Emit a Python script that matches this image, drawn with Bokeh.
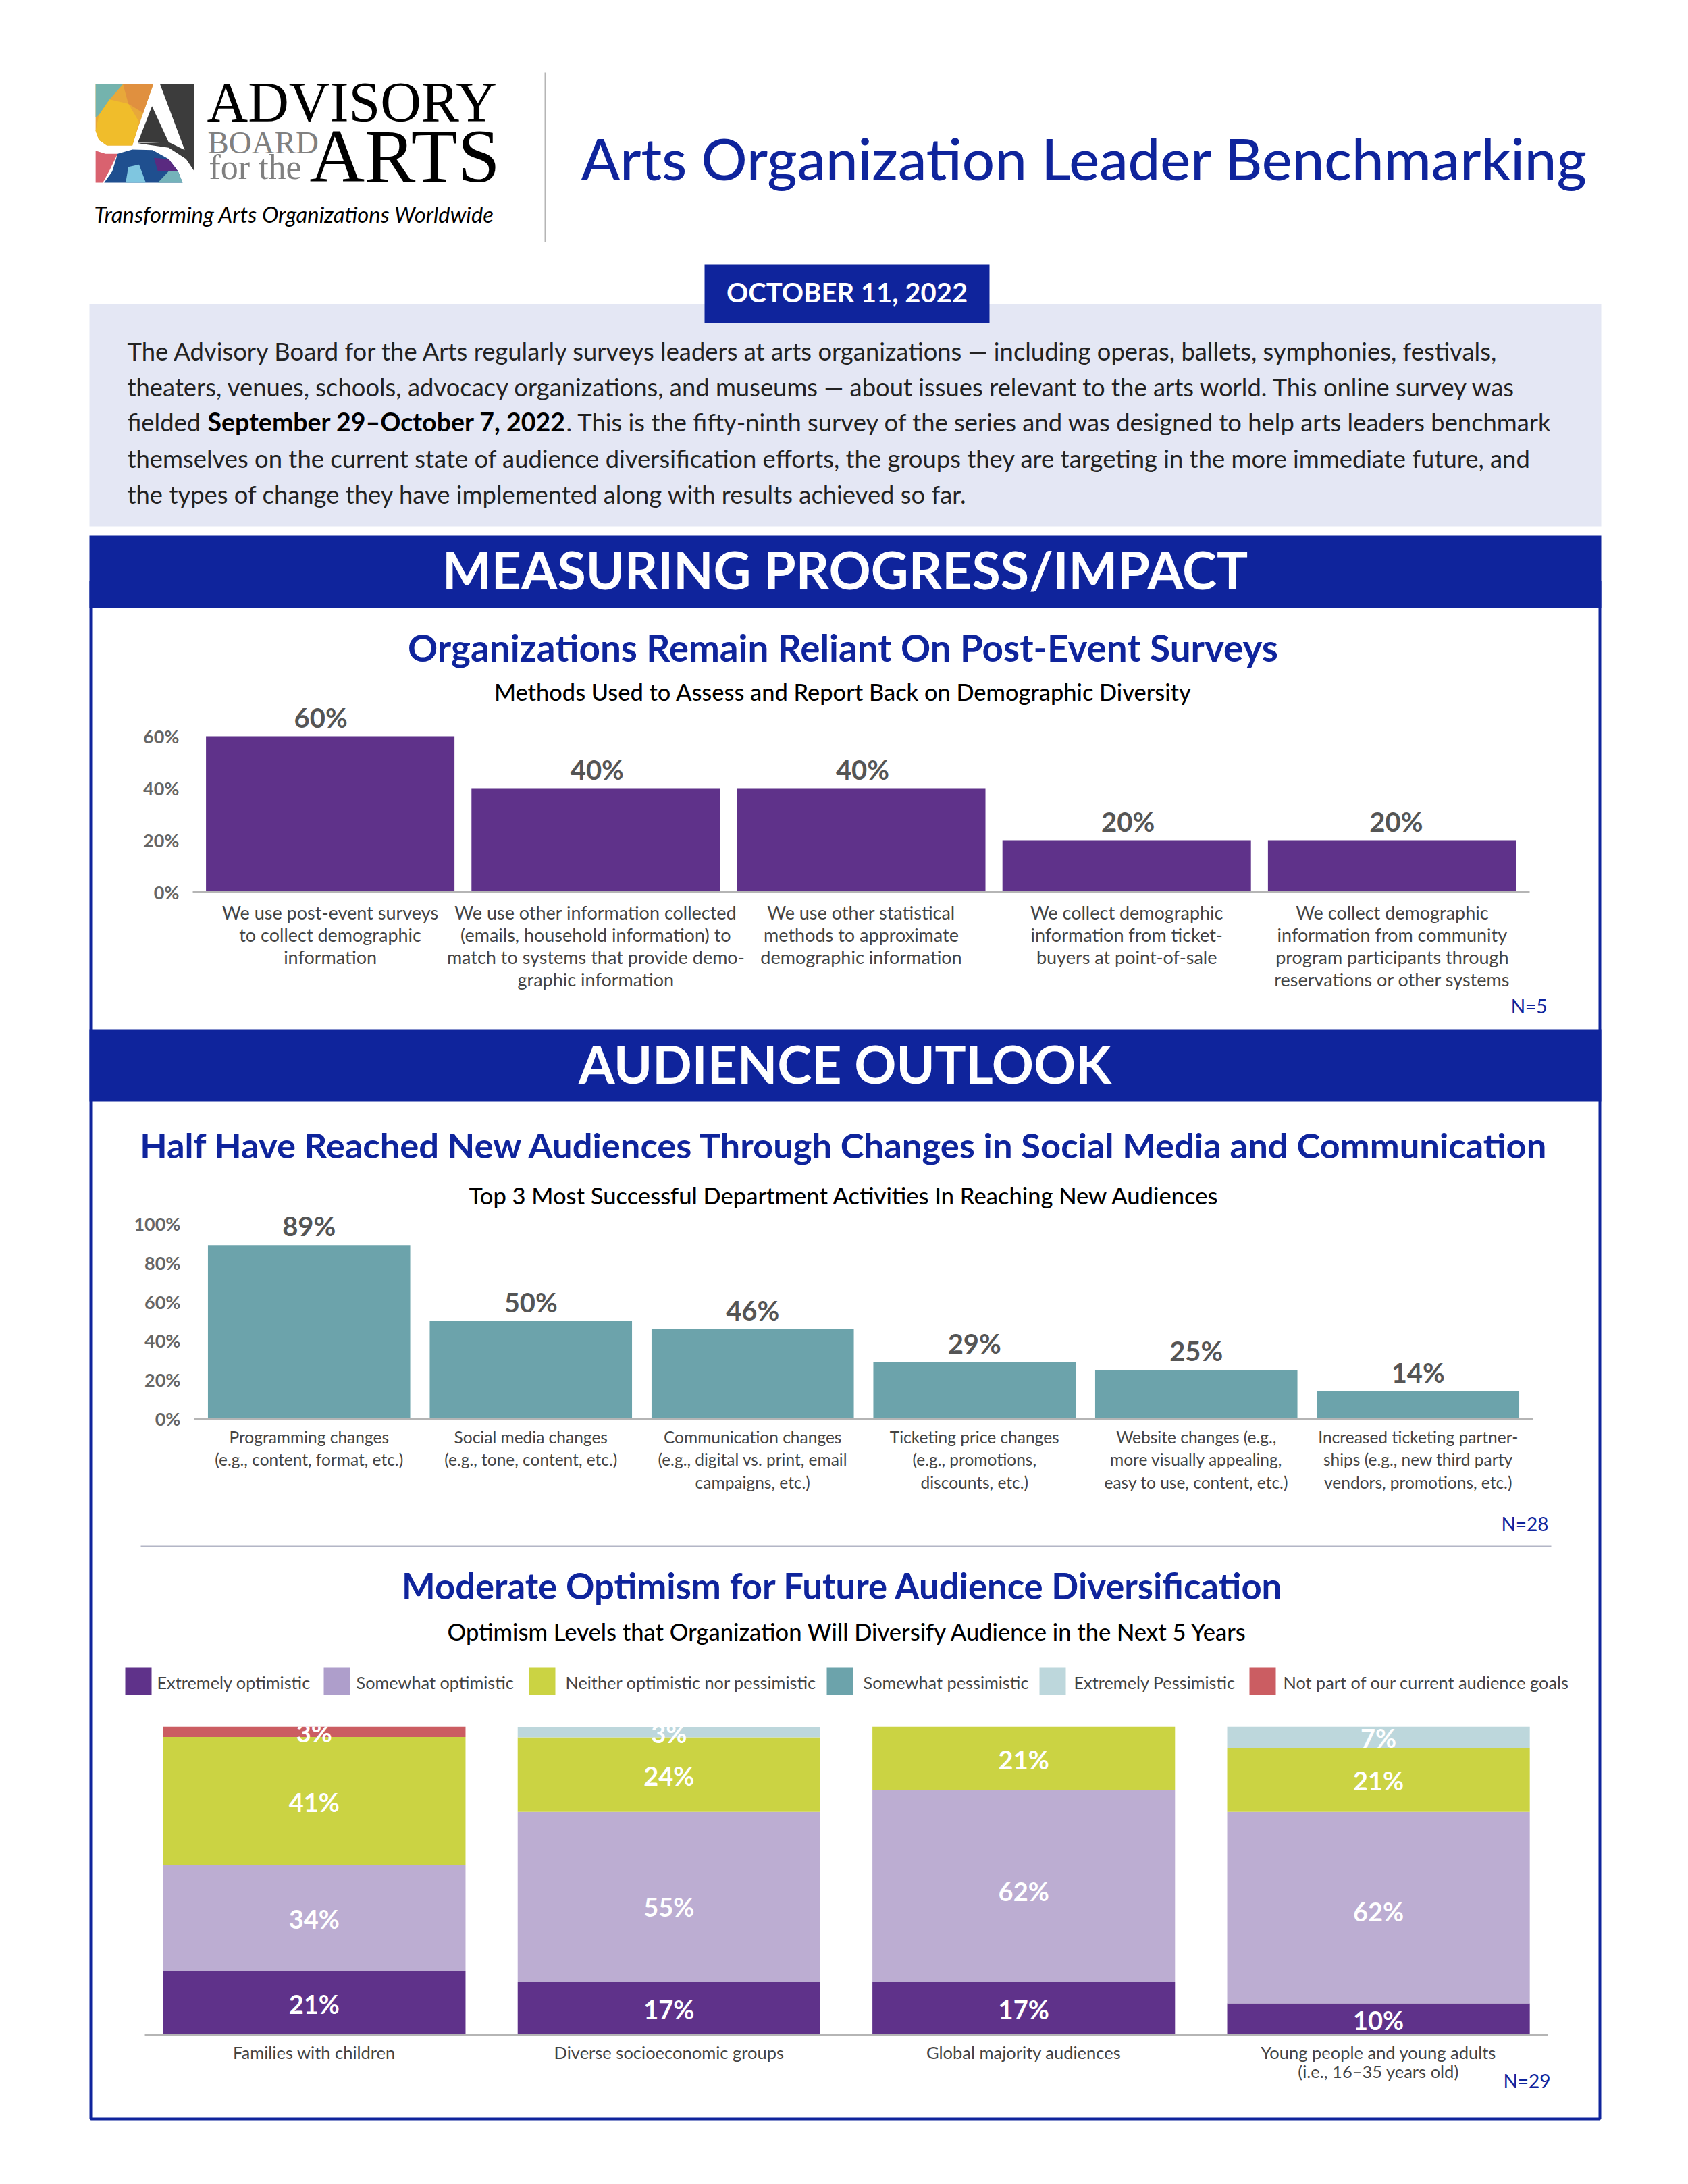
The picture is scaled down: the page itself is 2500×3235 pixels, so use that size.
from bokeh.plotting import figure
from bokeh.layouts import column
from bokeh.models import Range1d, FactorRange, FixedTicker, PrintfTickFormatter, ColumnDataSource
from bokeh.core.properties import value
from bokeh.embed import file_html
from bokeh.resources import INLINE

# ---------- data ----------
CATS_1 = ["We use post-event surveys\nto collect demographic\ninformation",
          "We use other information collected\n(emails, household information) to\nmatch to systems that provide demo-\ngraphic information",
          "We use other statistical\nmethods to approximate\ndemographic information",
          "We collect demographic\ninformation from ticket-\nbuyers at point-of-sale",
          "We collect demographic\ninformation from community\nprogram participants through\nreservations or other systems"]
VALS_1 = [60, 40, 40, 20, 20]
TICKS_1 = [0, 20, 40, 60]

CATS_2 = ["Programming changes\n(e.g., content, format, etc.)",
          "Social media changes\n(e.g., tone, content, etc.)",
          "Communication changes\n(e.g., digital vs. print, email\ncampaigns, etc.)",
          "Ticketing price changes\n(e.g., promotions,\ndiscounts, etc.)",
          "Website changes (e.g.,\nmore visually appealing,\neasy to use, content, etc.)",
          "Increased ticketing partner-\nships (e.g., new third party\nvendors, promotions, etc.)"]
VALS_2 = [89, 50, 46, 29, 25, 14]
TICKS_2 = [0, 20, 40, 60, 80, 100]

CATS_3 = ["Families with children", "Diverse socioeconomic groups",
          "Global majority audiences", "Young people and young adults\n(i.e., 16–35 years old)"]
EXT_OPT = [20.7, 17.2, 17.2, 10.3]
SOM_OPT = [34.5, 55.2, 62.1, 62.1]
NEITHER = [41.4, 24.1, 20.7, 20.7]
SOM_PES = [0, 0, 0, 0]
EXT_PES = [0, 3.4, 0, 6.9]
NOT_PART = [3.4, 0, 0, 0]
LEGEND = ["Extremely optimistic", "Somewhat optimistic", "Neither optimistic nor pessimistic",
          "Somewhat pessimistic", "Extremely Pessimistic", "Not part of our current audience goals"]

# ---------- style ----------
NAVY = "#0f249c"; PURPLE = "#5f328a"; LILAC = "#bcadd2"; LIME = "#cbd343"
TEAL = "#6ca3ab"; PALE = "#bdd7dc"; RED = "#cb5d62"
STACK_COLORS = [PURPLE, LILAC, LIME, TEAL, PALE, RED]
SWATCH_COLORS = [PURPLE, "#ae9ecb", LIME, TEAL, PALE, RED]
SANS = "Lato"; MEDIUM = "Lato Medium"; SERIF = "Liberation Serif"

PAGE_W, PAGE_H = 2484, 3219
page = figure(width=PAGE_W, height=PAGE_H, x_range=Range1d(0, PAGE_W), y_range=Range1d(PAGE_H, 0),
              toolbar_location=None, output_backend="svg", min_border=0, frame_align=False)
page.axis.visible = False
page.grid.visible = False
page.outline_line_color = None
page.background_fill_color = "white"

def T(x, y, s, size, color="#000000", style="normal", align="left", font=SANS, target=page):
    target.text([x], [y - 4], text=[s], text_font=value(font), text_font_size=f"{size}px", text_font_style=style,
                text_color=color, text_align=align, text_baseline="middle")

def box(l, t, r, b, color):
    page.quad(left=[l], right=[r], top=[t], bottom=[b], fill_color=color, line_color=None)

# logo mark: polygons given in a small local grid
def lx(v): return 130 + v / 2.516
def ly(v): return 110 + v / 3
def poly(pts, color):
    page.patch([lx(a) for a, _ in pts], [ly(b) for _, b in pts], fill_color=color, line_color=None)

poly([(28,43),(243,43),(185,240),(165,315),(70,315),(40,290),(28,250)], "#e8a83a")
poly([(28,43),(130,43),(80,110),(40,180),(28,190)], "#74b3ad")
poly([(130,43),(243,43),(205,170),(150,130)], "#e0903f")
poly([(40,180),(80,110),(150,130),(190,210),(165,315),(70,315),(40,290),(28,250)], "#f0bd2b")
poly([(238,140),(185,303),(300,300)], "#3a3a3a")
poly([(268,43),(396,43),(396,430),(365,375),(300,325),(185,305),(300,300),(360,335)], "#3c3c3c")
poly([(28,338),(65,352),(110,352),(80,425),(55,480),(28,480)], "#d9626f")
poly([(110,352),(165,333),(240,335),(300,375),(335,430),(352,480),(60,480),(90,430)], "#1f4f8f")
poly([(140,480),(150,410),(190,400),(215,480)], "#7fc6e0")
poly([(245,370),(300,375),(335,430),(260,430)], "#5a2a80")
poly([(260,480),(300,430),(335,430),(352,480)], "#74b3ba")
T(306, 155, "ADVISORY", 84, font=SERIF)
T(307, 214, "BOARD", 47, color="#808080", font=SERIF)
T(309, 251, "for the", 52, color="#808080", font=SERIF)
T(458, 234, "ARTS", 113, font=SERIF)
T(139, 321, "Transforming Arts Organizations Worldwide", 32.8, style="italic")
page.segment([807], [107], [807], [358], line_color="#b5b5b5", line_width=2)
T(860, 237, "Arts Organization Leader Benchmarking", 85, color=NAVY, font=MEDIUM)

# intro
BODY = 36.4; INK = "#222222"
box(132, 450, 2371, 779, "#e4e7f4")
box(1043, 391, 1465, 478, NAVY)
T(1254, 436, "OCTOBER 11, 2022", 40, color="white", style="bold", align="center")
T(188, 523, "The Advisory Board for the Arts regularly surveys leaders at arts organizations — including  operas, ballets, symphonies, festivals,", BODY, color=INK)
T(188, 576, "theaters, venues, schools, advocacy organizations, and museums — about issues relevant to the arts world. This online survey was", BODY, color=INK)
T(188, 628, "fielded", BODY, color=INK)
T(307, 628, "September 29–October 7, 2022", 37.5, style="bold")
T(838, 628, ". This is the fifty-ninth survey of the series and was designed to help arts leaders benchmark", BODY, color=INK)
T(188, 682, "themselves on  the current state of audience diversification efforts, the groups they are targeting in the more immediate future, and", BODY, color=INK)
T(188, 735, "the types of change they have implemented along with results achieved so far.", BODY, color=INK)

# frame and banners
page.quad(left=[134], right=[2369], top=[860], bottom=[3138], fill_color=None, line_color=NAVY, line_width=4)
box(132, 793, 2371, 900, NAVY)
box(132, 1524, 2371, 1631, NAVY)
T(1251, 846, "MEASURING PROGRESS/IMPACT", 77, color="white", style="bold", align="center")
T(1251, 1578, "AUDIENCE OUTLOOK", 77, color="white", style="bold", align="center")

T(1248, 962, "Organizations Remain Reliant On Post-Event Surveys", 54.8, color=NAVY, style="bold", align="center")
T(1248, 1028, "Methods Used to Assess and Report Back on Demographic Diversity", 34.4, font=MEDIUM, align="center")
T(1251, 1699, "Half Have Reached New Audiences Through Changes in Social Media and Communication", 52.5, color=NAVY, style="bold", align="center")
T(1250, 1774, "Top 3 Most Successful Department Activities In Reaching New Audiences", 34.5, font=MEDIUM, align="center")
page.segment([208], [2290], [2297], [2290], line_color="#b3b6c6", line_width=2)
T(1254, 2352, "Moderate Optimism for Future  Audience Diversification", 52.6, color=NAVY, style="bold", align="center")
T(1255, 2420, "Optimism Levels that Organization Will Diversify Audience in the Next 5 Years", 34.5, font=MEDIUM, align="center")

T(2291, 1493, "N=5", 28, color=NAVY, align="right")
T(2293, 2260, "N=28", 28, color=NAVY, align="right")
T(2296, 3085, "N=29", 28, color=NAVY, align="right")

# legend
SWATCH_X = [185, 479, 783, 1224, 1539, 1850]
LABEL_X = [232, 527, 837, 1278, 1590, 1900]
for name, col, sx, lxx in zip(LEGEND, SWATCH_COLORS, SWATCH_X, LABEL_X):
    box(sx, 2469, sx + 39, 2510, col)
    T(lxx, 2495, name, 25.3, color="#444444")


def chart(cats, left, right, top, baseline, y_end, bottom_pad, lab_size, lab_lh, slot_pad, standoff):
    fig_l, fig_r, fig_t = 160, 2340, top
    h = baseline - top + bottom_pad
    slot = (right - left - 2 * slot_pad) / len(cats)
    xr = FactorRange(factors=cats, factor_padding=0, group_padding=0, subgroup_padding=0,
                     range_padding=2 * slot_pad / (slot * len(cats)), range_padding_units="percent")
    p = figure(width=fig_r - fig_l, height=h, x_range=xr, y_range=Range1d(0, y_end),
               toolbar_location=None, output_backend="svg", frame_align=False,
               min_border_left=left - fig_l, min_border_right=fig_r - right,
               min_border_top=0, min_border_bottom=bottom_pad,
               styles={"position": "absolute", "left": f"{fig_l}px", "top": f"{fig_t}px"})
    p.background_fill_alpha = 0
    p.border_fill_alpha = 0
    p.outline_line_color = None
    p.grid.visible = False
    ax = p.xaxis[0]
    ax.axis_line_color = "#b5b5b5"
    ax.axis_line_width = 3
    ax.major_tick_line_color = None
    ax.minor_tick_line_color = None
    ax.major_label_text_font = SANS
    ax.major_label_text_font_size = f"{lab_size}px"
    ax.major_label_text_color = "#444444"
    ax.major_label_text_line_height = lab_lh
    ax.major_label_standoff = standoff
    ay = p.yaxis[0]
    ay.axis_line_color = None
    ay.major_tick_line_color = None
    ay.minor_tick_line_color = None
    ay.formatter = PrintfTickFormatter(format="%d%%")
    ay.major_label_text_font = SANS
    ay.major_label_text_font_style = "bold"
    ay.major_label_text_font_size = "27px"
    ay.major_label_text_color = "#666666"
    ay.major_label_standoff = 14
    return p


# chart 1
p1 = chart(CATS_1, 285, 2265, 1030, 1321, (1321 - 1030) / 3.85, 170, 27, 1.0, 7, 7)
p1.yaxis[0].ticker = FixedTicker(ticks=TICKS_1)
src1 = ColumnDataSource(dict(x=CATS_1, y=VALS_1, t=[f"{v}%" for v in VALS_1], dx=[-14, 2, 2, 2, 6]))
p1.vbar(x="x", top="y", width=0.936, source=src1, fill_color=PURPLE, line_color=None)
p1.text(x="x", y="y", text="t", x_offset="dx", y_offset=-28, source=src1, text_font=value(SANS), text_font_style="bold",
        text_font_size="40px", text_color="#555555", text_align="center", text_baseline="middle")

# chart 2
p2 = chart(CATS_2, 287, 2270, 1790, 2101, (2101 - 1790) / 2.89, 130, 24.5, 1.17, 6, 6)
p2.yaxis[0].ticker = FixedTicker(ticks=TICKS_2)
src2 = ColumnDataSource(dict(x=CATS_2, y=VALS_2, t=[f"{v}%" for v in VALS_2]))
p2.vbar(x="x", top="y", width=0.912, source=src2, fill_color=TEAL, line_color=None)
p2.text(x="x", y="y", text="t", y_offset=-28, source=src2, text_font=value(SANS), text_font_style="bold",
        text_font_size="40px", text_color="#555555", text_align="center", text_baseline="middle")

# chart 3
p3 = chart(CATS_3, 214, 2292, 2557, 3014, 100, 90, 25.5, 0.945, -11.8, 4)
p3.yaxis[0].visible = False
series = [EXT_OPT, SOM_OPT, NEITHER, SOM_PES, EXT_PES, NOT_PART]
names = ["s%d" % i for i in range(6)]
src3 = ColumnDataSource(dict(x=CATS_3, **{n: s for n, s in zip(names, series)}))
p3.vbar_stack(names, x="x", width=0.853, source=src3, color=STACK_COLORS, line_color=None)
NUDGE = {(1, 1): 14, (2, 1): 7, (3, 1): 5}
lx3, ly3, lt3, lo3 = [], [], [], []
for ci, cat in enumerate(CATS_3):
    base = 0
    for si, s in enumerate(series):
        v = s[ci]
        if v > 0:
            lx3.append(cat); ly3.append(base + v / 2); lt3.append(f"{round(v)}%")
            lo3.append(NUDGE.get((ci, si), 1))
        base += v
p3.text(x=lx3, y=ly3, text=lt3, y_offset=lo3, text_font=value(SANS), text_font_style="bold",
        text_font_size="38px", text_color="white", text_align="center", text_baseline="middle")

root = column(page, p1, p2, p3, spacing=0)
open("out.html", "w").write(file_html(root, INLINE))
